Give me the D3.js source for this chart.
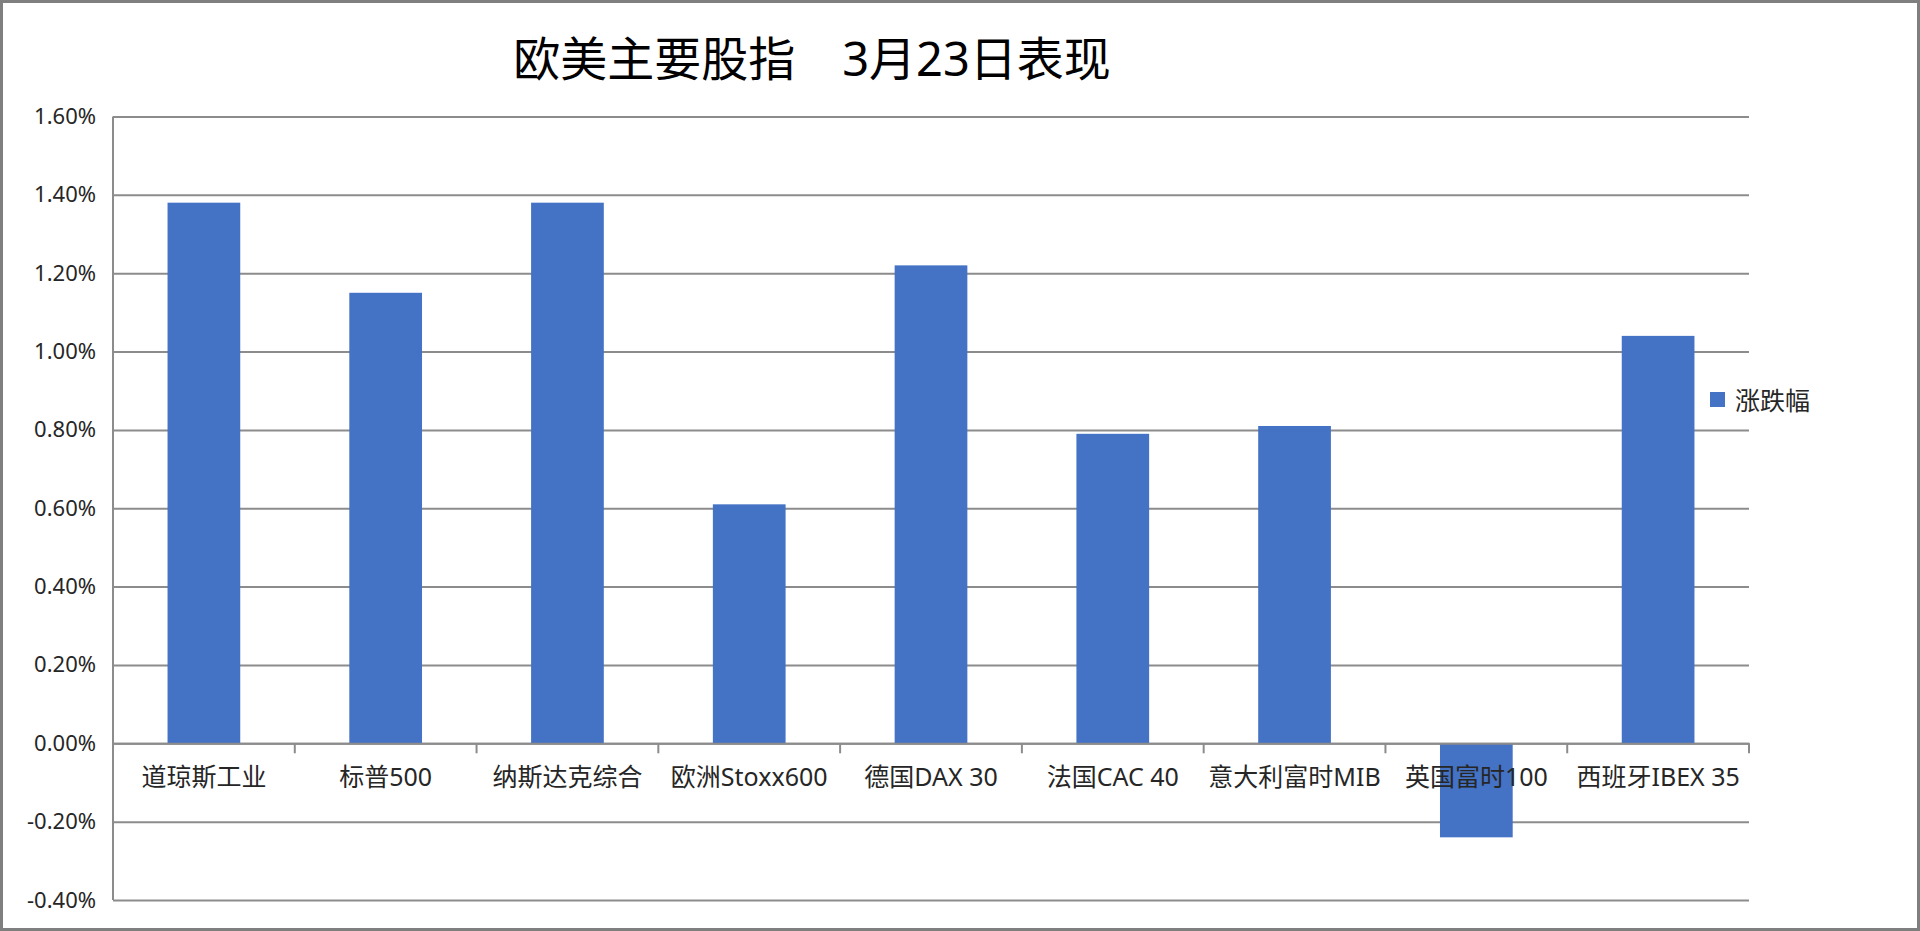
<!DOCTYPE html>
<html>
<head>
<meta charset="utf-8">
<script src="https://cdn.jsdelivr.net/npm/d3@7"></script>
<style>
    html, body { margin: 0; padding: 0; background: #ffffff; }
    svg { display: block; }
    text { font-family: "Noto Sans", "Noto Sans CJK SC", sans-serif; fill: #262626; }
</style>
</head>
<body>
<div id="chart-container"></div>
<script>
const categories = ['道琼斯工业', '标普500', '纳斯达克综合', '欧洲Stoxx600', '德国DAX 30',
    '法国CAC 40', '意大利富时MIB', '英国富时100', '西班牙IBEX 35'];
const changes = [1.38, 1.15, 1.38, 0.61, 1.22, 0.79, 0.81, -0.24, 1.04];
const yTicks = [-0.4, -0.2, 0, 0.2, 0.4, 0.6, 0.8, 1.0, 1.2, 1.4, 1.6];
const seriesName = '涨跌幅';
const title = '欧美主要股指\u30003月23日表现';

const width = 1920;
const height = 931;
const margin = { top: 116.5, right: 171, bottom: 31, left: 113 };

const gridColor = '#8c8c8c';
const barColor = '#4472c4';

function drawChart() {
    const svg = d3.select('#chart-container')
        .append('svg')
        .attr('width', width)
        .attr('height', height);

    // outer frame
    svg.append('rect')
        .attr('x', 1.5).attr('y', 1.5)
        .attr('width', width - 3).attr('height', height - 3)
        .attr('fill', '#ffffff')
        .attr('stroke', '#7f7f7f')
        .attr('stroke-width', 3);

    const x = d3.scaleBand()
        .domain(categories)
        .range([margin.left, width - margin.right])
        .padding(0);

    const y = d3.scaleLinear()
        .domain([d3.min(yTicks), d3.max(yTicks)])
        .range([height - margin.bottom, margin.top]);

    // y axis + gridlines
    const yAxis = svg.append('g')
        .attr('transform', `translate(${margin.left},0)`)
        .call(d3.axisLeft(y)
            .tickValues(yTicks)
            .tickSize(-(width - margin.right - margin.left))
            .tickPadding(17)
            .tickFormat(d => d.toFixed(2) + '%'));
    yAxis.select('.domain').remove();
    yAxis.selectAll('line')
        .attr('stroke', gridColor)
        .attr('stroke-width', 2);
    yAxis.selectAll('text')
        .style('font-size', '22px')
        .style('fill', '#262626');

    // vertical axis line
    svg.append('line')
        .attr('x1', margin.left).attr('x2', margin.left)
        .attr('y1', y.range()[1]).attr('y2', y.range()[0])
        .attr('stroke', gridColor)
        .attr('stroke-width', 2);

    // bars
    const barW = x.bandwidth() * 0.4;
    svg.append('g')
        .selectAll('rect')
        .data(changes)
        .enter()
        .append('rect')
        .attr('x', (d, i) => x(categories[i]) + (x.bandwidth() - barW) / 2)
        .attr('y', d => y(Math.max(0, d)))
        .attr('width', barW)
        .attr('height', d => Math.abs(y(d) - y(0)))
        .style('fill', barColor);

    // category axis at zero
    const xAxis = svg.append('g')
        .attr('transform', `translate(0,${y(0)})`)
        .call(d3.axisBottom(x).tickSize(0).tickPadding(25));
    xAxis.select('.domain')
        .attr('stroke', gridColor)
        .attr('stroke-width', 2);
    xAxis.selectAll('text')
        .style('font-size', '25px')
        .style('fill', '#262626');

    // tick marks between categories
    const bounds = categories.map(c => x(c) + x.bandwidth());
    svg.append('g')
        .selectAll('line')
        .data(bounds)
        .enter()
        .append('line')
        .attr('x1', d => d).attr('x2', d => d)
        .attr('y1', y(0)).attr('y2', y(0) + 10)
        .attr('stroke', gridColor)
        .attr('stroke-width', 2);

    // legend
    const legend = svg.append('g')
        .attr('transform', 'translate(1710,392)');
    legend.append('rect')
        .attr('width', 15).attr('height', 15)
        .style('fill', barColor);
    legend.append('text')
        .attr('x', 25).attr('y', 8)
        .attr('dominant-baseline', 'central')
        .style('font-size', '25px')
        .text(seriesName);

    // title
    svg.append('text')
        .attr('x', 812).attr('y', 76)
        .attr('text-anchor', 'middle')
        .style('font-size', '47px')
        .style('fill', '#000000')
        .text(title);
}

drawChart();
</script>
</body>
</html>
